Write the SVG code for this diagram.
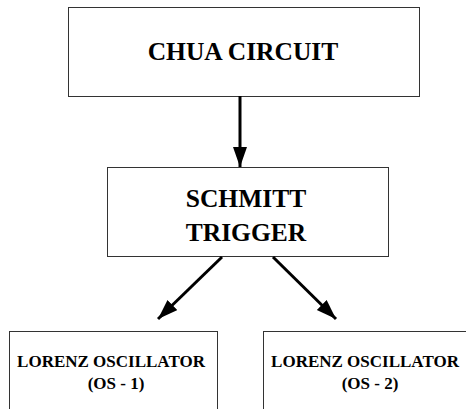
<svg xmlns="http://www.w3.org/2000/svg" width="466" height="409" viewBox="0 0 466 409">
<style>
.box{fill:#fff;stroke:#333;stroke-width:1}
.t{font-family:"Liberation Serif","Times New Roman",serif;font-weight:bold;fill:#000;text-anchor:middle}
.big{font-size:25.5px}
.sm{font-size:17px}
.conn{stroke:#000;stroke-width:3;fill:none;marker-end:url(#ah)}
</style>
<defs>
<marker id="ah" markerUnits="userSpaceOnUse" markerWidth="21" markerHeight="15" refX="20" refY="7" orient="auto">
<path d="M0,0 L20,7 L0,14 z" fill="#000"/>
</marker>
</defs>
<rect width="466" height="409" fill="#fff"/>
<g id="chua">
<rect class="box" x="68.5" y="7.5" width="351" height="89"/>
<text class="t big" x="243" y="60">CHUA CIRCUIT</text>
</g>
<g id="schmitt">
<rect class="box" x="107.5" y="167.5" width="281" height="89"/>
<text class="t big" x="246" y="207">SCHMITT</text>
<text class="t big" x="246" y="241">TRIGGER</text>
</g>
<g id="os1">
<rect class="box" x="9.5" y="331.5" width="208" height="100"/>
<text class="t sm" x="111" y="367">LORENZ OSCILLATOR</text>
<text class="t sm" x="116" y="389">(OS - 1)</text>
</g>
<g id="os2">
<rect class="box" x="263.5" y="331.5" width="220" height="100"/>
<text class="t sm" x="365" y="367">LORENZ OSCILLATOR</text>
<text class="t sm" x="370" y="389">(OS - 2)</text>
</g>
<g id="connectors">
<line class="conn" x1="240" y1="96" x2="240" y2="167"/>
<line class="conn" x1="222" y1="257" x2="158" y2="319"/>
<line class="conn" x1="273" y1="257" x2="336" y2="319"/>
</g>
</svg>
